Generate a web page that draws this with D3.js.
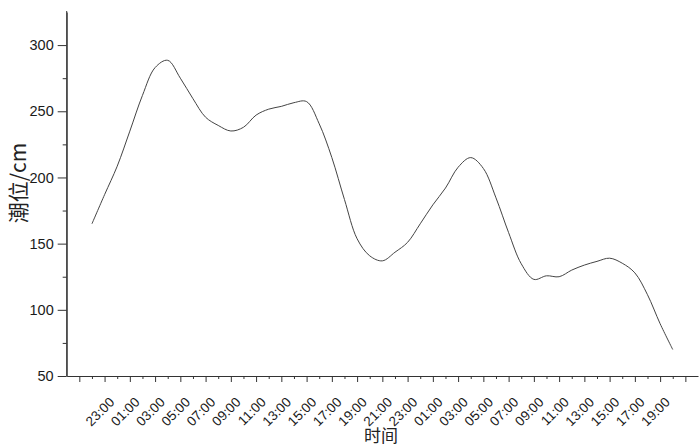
<!DOCTYPE html>
<html><head><meta charset="utf-8">
<script src="https://cdn.jsdelivr.net/npm/d3@7"></script>
<style>body{margin:0;background:#fff}svg{display:block}</style>
</head><body><svg id="c" width="700" height="447"></svg>
<script>
// hourly times of the record (21:00 day 1 to 19:00 day 3)
const times = ["21:00","22:00","23:00","00:00","01:00","02:00","03:00","04:00","05:00","06:00","07:00","08:00",
  "09:00","10:00","11:00","12:00","13:00","14:00","15:00","16:00","17:00","18:00","19:00","20:00",
  "21:00","22:00","23:00","00:00","01:00","02:00","03:00","04:00","05:00","06:00","07:00","08:00",
  "09:00","10:00","11:00","12:00","13:00","14:00","15:00","16:00","17:00","18:00","19:00"];
// tide level (cm)
const tide = [165,187,208.5,235,262,283,288.5,275,259.5,245.5,239.3,235.1,
  237.9,247.1,251.6,253.7,256.5,257.3,240.5,215,183.3,153.7,140.8,137,
  143.5,151,165,179.3,192,207.7,215,206.8,184.6,158.3,134.8,123,
  125.7,125,130,133.8,136.6,139,135.2,127.9,111.4,89.5,70];
// x tick labels (every two hours)
const tickLabels = ["23:00","01:00","03:00","05:00","07:00","09:00","11:00","13:00","15:00","17:00","19:00","21:00",
  "23:00","01:00","03:00","05:00","07:00","09:00","11:00","13:00","15:00","17:00","19:00"];
const yTicks = [50,100,150,200,250,300];
const yMinor = [75,125,175,225,275];

const svg = d3.select("#c");
const axisCol = "#333";
const x = d3.scaleLinear().domain([-2, 48]).range([66.7, 698]);
const y = d3.scaleLinear().domain([50, 325]).range([376, 12]);
const y0 = y(50);

// tick indices: every hour from -1 (20:00) to 47
const allIdx = d3.range(-1, 48);
const longIdx = allIdx.filter(i => Math.abs(i) % 2 === 1);
const shortIdx = allIdx.filter(i => i % 2 === 0);
const labelIdx = tickLabels.map((d, n) => 2 + 2 * n);

function styleAxis(g){
  g.selectAll("path,line").attr("stroke", axisCol).attr("stroke-width", 1);
}

// X axis
svg.append("g").attr("transform", `translate(0,${y0})`)
  .call(d3.axisBottom(x).tickValues(shortIdx).tickSize(3).tickSizeOuter(0).tickFormat(""))
  .call(styleAxis);
svg.append("g").attr("transform", `translate(0,${y0})`)
  .call(d3.axisBottom(x).tickValues(longIdx).tickSize(6).tickSizeOuter(0).tickFormat(""))
  .call(styleAxis).select(".domain").remove();
svg.append("g").selectAll("text").data(labelIdx).join("text")
  .attr("transform", (d) => `translate(${x(d) - 2},${y0 + 27}) rotate(-45)`)
  .attr("text-anchor", "end")
  .attr("font-family", "Liberation Sans, Arial, sans-serif")
  .attr("font-size", 13.5)
  .attr("fill", "#1a1a1a")
  .text((d, n) => tickLabels[n]);

// Y axis
svg.append("g").attr("transform", `translate(${x(-2)},0)`)
  .call(d3.axisLeft(y).tickValues(yTicks).tickSize(9).tickPadding(4).tickSizeOuter(0))
  .call(styleAxis)
  .call(g => g.selectAll("text").attr("font-family", "Liberation Sans, Arial, sans-serif")
    .attr("font-size", 14.5).attr("fill", "#1a1a1a"));
svg.append("g").attr("transform", `translate(${x(-2)},0)`)
  .call(d3.axisLeft(y).tickValues(yMinor).tickSize(4).tickSizeOuter(0).tickFormat(""))
  .call(styleAxis).select(".domain").remove();
// extend y axis line to top
svg.append("line").attr("x1", x(-2)).attr("x2", x(-2)).attr("y1", 11).attr("y2", y0)
  .attr("stroke", axisCol);

// line
const line = d3.line().x((d, i) => x(i)).y(d => y(d)).curve(d3.curveCatmullRom.alpha(0.5));
svg.append("path").datum(tide).attr("d", line)
  .attr("fill", "none").attr("stroke", "#444").attr("stroke-width", 1);

// axis titles
svg.append("text").attr("transform", "translate(26,183) rotate(-90)")
  .attr("text-anchor", "middle")
  .attr("font-family", "Noto Sans CJK SC, Liberation Sans, sans-serif")
  .attr("font-size", 21).attr("fill", "#222")
  .text("潮位/cm");
svg.append("text").attr("x", 381).attr("y", 442)
  .attr("text-anchor", "middle")
  .attr("font-family", "Noto Sans CJK SC, sans-serif")
  .attr("font-size", 17).attr("fill", "#222")
  .text("时间");
</script></body></html>
